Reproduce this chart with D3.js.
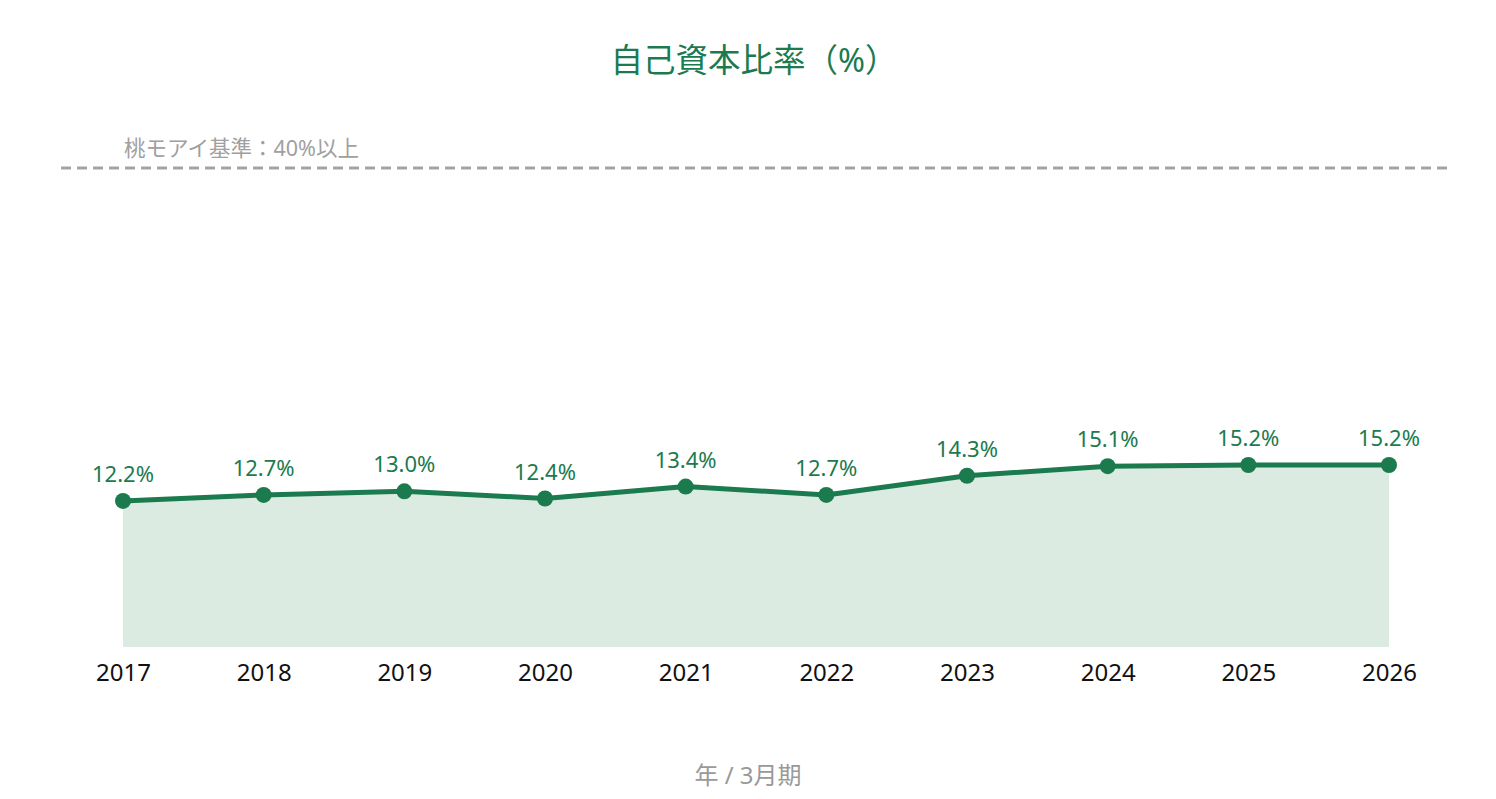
<!DOCTYPE html>
<html><head><meta charset="utf-8">
<script src="https://cdn.jsdelivr.net/npm/d3@7"></script>
<style>body{margin:0;background:#fff;} svg{display:block;font-family:"Noto Sans","Noto Sans CJK JP",sans-serif;}</style>
</head><body>
<svg id="c" width="1496" height="799"></svg>
<script>
const years = ["2017","2018","2019","2020","2021","2022","2023","2024","2025","2026"];
const ratios = [12.2, 12.7, 13.0, 12.4, 13.4, 12.7, 14.3, 15.1, 15.2, 15.2];
const benchmark = 40;
const benchmarkLabel = "桃モアイ基準：40%以上";
const title = "自己資本比率（%）";
const xTitle = "年 / 3月期";

const FONT = "'Noto Sans','Noto Sans CJK JP',sans-serif";
const svg = d3.select("#c");
const green = "#1b7a4e";
const x = d3.scalePoint().domain(years).range([123, 1389]);
const y = d3.scaleLinear().domain([0, 40]).range([647, 168]);

svg.append("text").attr("x", 754).attr("y", 72).attr("text-anchor", "middle")
  .attr("font-size", 32.5).attr("font-weight", 400).attr("fill", green).text(title);

svg.append("line").attr("x1", 61).attr("x2", 1453).attr("y1", y(benchmark)).attr("y2", y(benchmark))
  .attr("stroke", "#a3a3a3").attr("stroke-width", 3).attr("stroke-dasharray", "10,6");
svg.append("text").attr("x", 124).attr("y", 156).attr("font-size", 21.5).attr("fill", "#a0a0a0").text(benchmarkLabel);

const data = years.map((d, i) => ({year: d, v: ratios[i]}));
svg.append("path").datum(data)
  .attr("d", d3.area().x(d => x(d.year)).y0(y(0)).y1(d => y(d.v)))
  .attr("fill", "#dcebe2");
svg.append("path").datum(data)
  .attr("d", d3.line().x(d => x(d.year)).y(d => y(d.v)))
  .attr("fill", "none").attr("stroke", green).attr("stroke-width", 5).attr("stroke-linejoin", "round");
svg.selectAll("circle.pt").data(data).join("circle")
  .attr("cx", d => x(d.year)).attr("cy", d => y(d.v)).attr("r", 8).attr("fill", green);
svg.selectAll("text.val").data(data).join("text").attr("class", "val")
  .attr("x", d => x(d.year)).attr("y", d => y(d.v) - 19).attr("text-anchor", "middle")
  .attr("font-size", 22).attr("fill", green).text(d => d.v.toFixed(1) + "%");

const ax = svg.append("g").attr("transform", `translate(0,${y(0)})`)
  .call(d3.axisBottom(x).tickSize(0).tickPadding(17));
ax.select(".domain").remove();
ax.selectAll("text").attr("font-size", 24).attr("fill", "#111").attr("font-family", FONT);

svg.append("text").attr("x", 748).attr("y", 784).attr("text-anchor", "middle")
  .attr("font-size", 24).attr("fill", "#999").text(xTitle);
</script>
</body></html>
